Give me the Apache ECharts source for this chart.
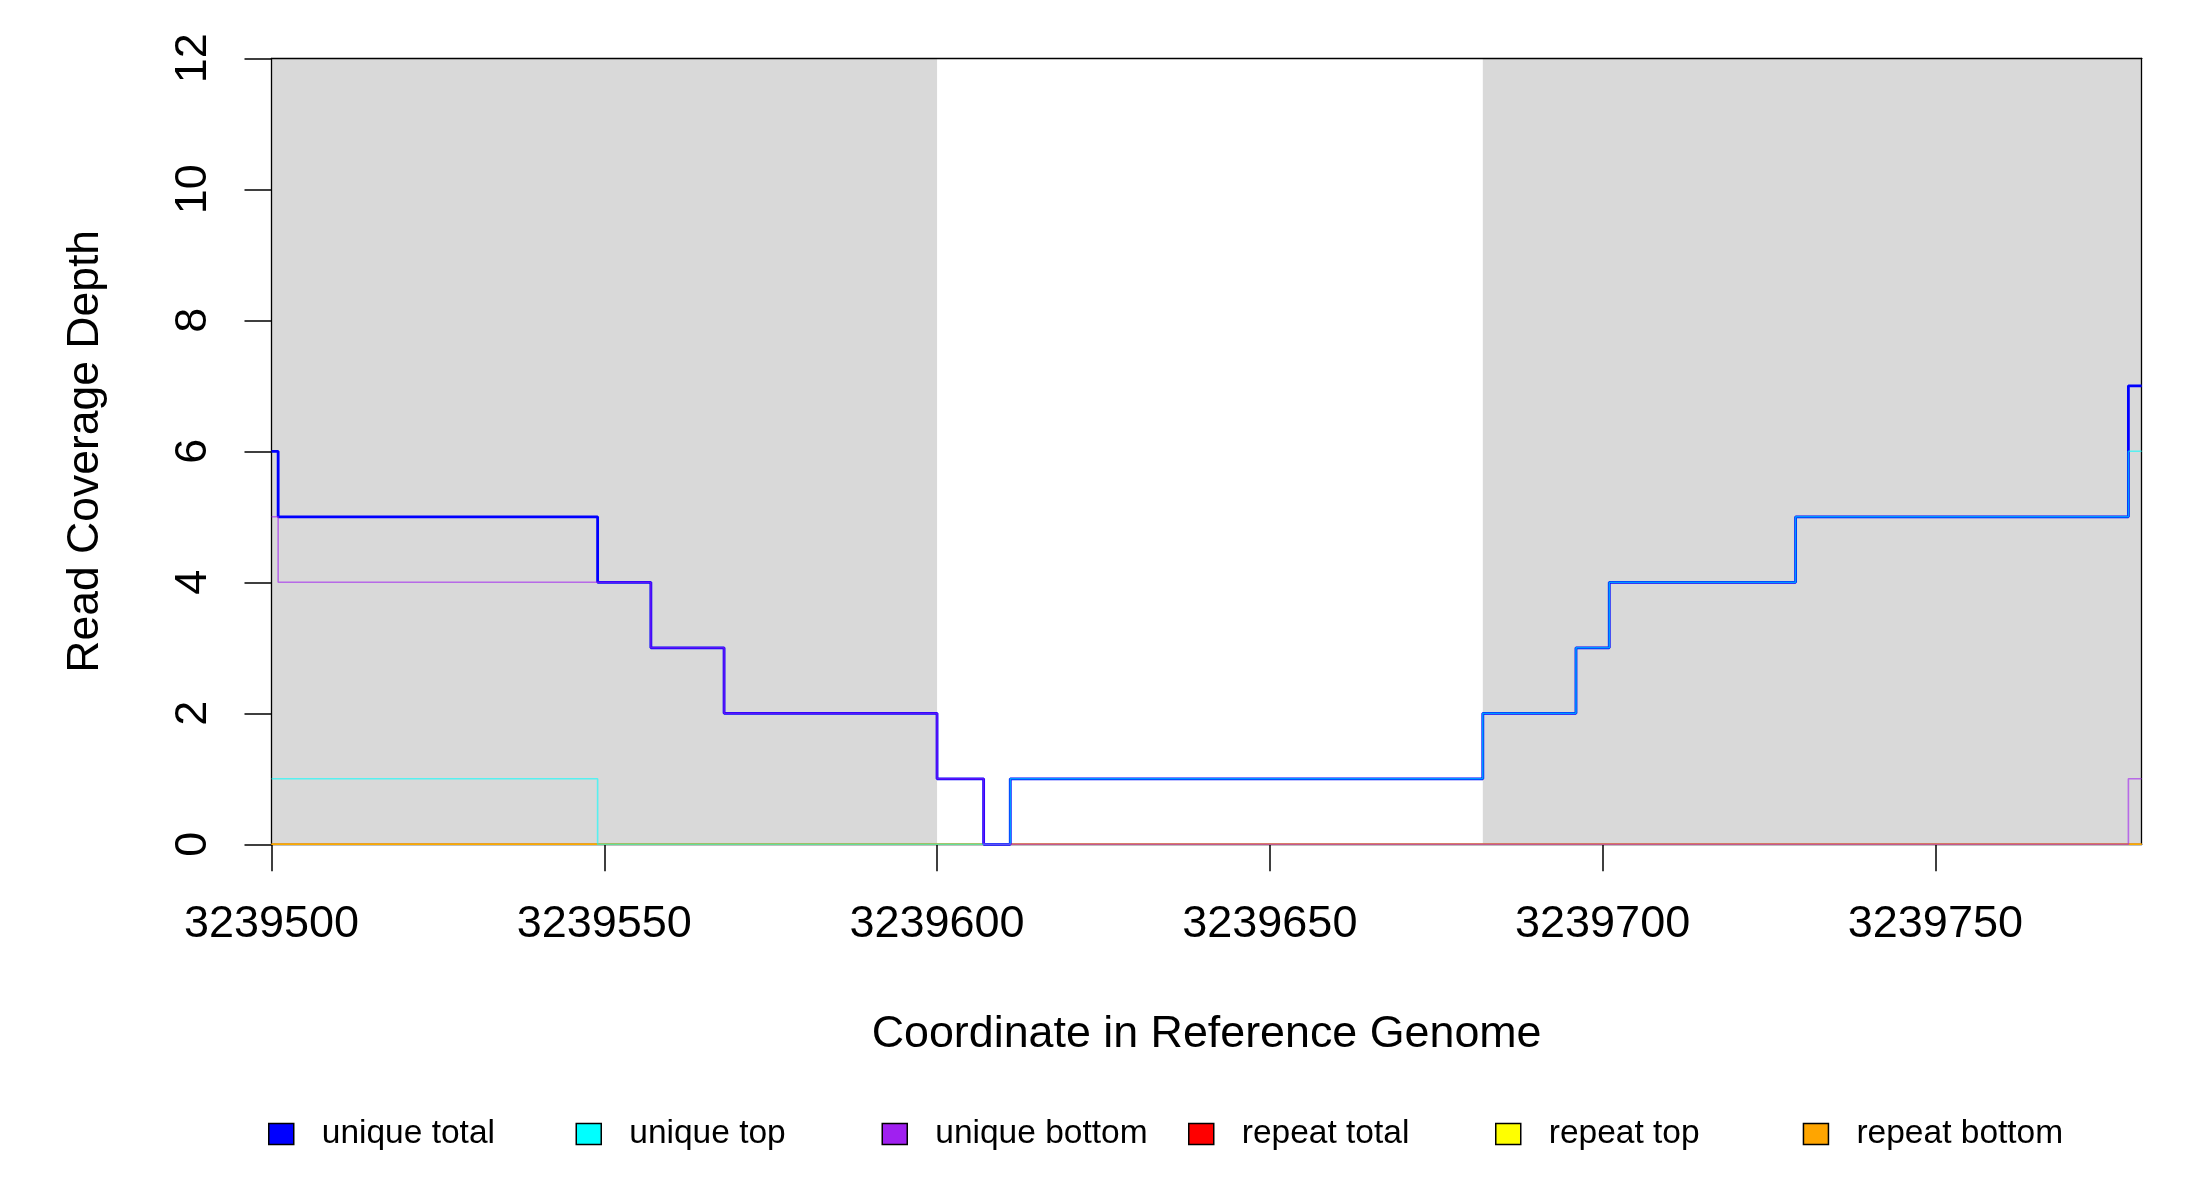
<!DOCTYPE html>
<html>
<head>
<meta charset="utf-8">
<script src="https://cdn.jsdelivr.net/npm/echarts@6/dist/echarts.min.js"></script>
<style>
html,body{margin:0;padding:0;background:#fff;}
#chart{width:2200px;height:1200px;}
</style>
</head>
<body>
<div id="chart"></div>
<script>
// ---- data ----
const positions    = [3239500, 3239501, 3239549, 3239557, 3239568, 3239600, 3239607, 3239611, 3239682, 3239696, 3239701, 3239729, 3239779, 3239781];
const uniqueTotal  = [6, 5, 4, 3, 2, 1, 0, 1, 2, 3, 4, 5, 7, 7];
const uniqueTop    = [1, 1, 0, 0, 0, 0, 0, 1, 2, 3, 4, 5, 6, 6];
const uniqueBottom = [5, 4, 4, 3, 2, 1, 0, 0, 0, 0, 0, 0, 1, 1];
const repeatTotal  = [0, 0, 0, 0, 0, 0, 0, 0, 0, 0, 0, 0, 0, 0];
const repeatTop    = [0, 0, 0, 0, 0, 0, 0, 0, 0, 0, 0, 0, 0, 0];
const repeatBottom = [0, 0, 0, 0, 0, 0, 0, 0, 0, 0, 0, 0, 0, 0];
const xTicks = [3239500, 3239550, 3239600, 3239650, 3239700, 3239750];
const xRange = [3239500, 3239781];
const yRange = [0, 12];
const shadedRegions = [[3239500, 3239600], [3239682, 3239781]];
const seriesNames = ['unique total', 'unique top', 'unique bottom', 'repeat total', 'repeat top', 'repeat bottom'];
const seriesColors = ['#0000FF', '#00FFFF', '#A020F0', '#FF0000', '#FFFF00', '#FFA500'];

// ---- chart ----
const FONT = 'Liberation Sans';
const chart = echarts.init(document.getElementById('chart'));
const valuesByName = {
  'unique total': uniqueTotal, 'unique top': uniqueTop, 'unique bottom': uniqueBottom,
  'repeat total': repeatTotal, 'repeat top': repeatTop, 'repeat bottom': repeatBottom
};
const drawOrder = ['repeat total', 'repeat top', 'repeat bottom', 'unique total', 'unique top', 'unique bottom'];

function lineSeries(name) {
  const idx = seriesNames.indexOf(name);
  const thick = name === 'unique total';
  const isRepeat = name.indexOf('repeat') === 0;
  return {
    name: name,
    type: 'line',
    step: 'end',
    symbol: 'none',
    clip: false,
    z: 3,
    color: seriesColors[idx],
    lineStyle: { color: seriesColors[idx], width: thick ? 2.8 : 1.6, opacity: thick ? 1 : (isRepeat ? 0.75 : 0.6) },
    data: positions.map((x, i) => [x, valuesByName[name][i]])
  };
}

const legendLefts = [268, 575.5, 881.5, 1188, 1495, 1802.7];
const legends = seriesNames.map((n, i) => ({
  data: [{ name: n, itemStyle: { color: seriesColors[i], borderColor: '#000', borderWidth: 1.5, opacity: 1 } }],
  left: legendLefts[i],
  top: 1117,
  orient: 'horizontal',
  icon: 'rect',
  itemWidth: 25,
  itemHeight: 21,
  selectedMode: false,
  padding: 0,
  textStyle: { fontFamily: FONT, fontSize: 33.5, color: '#000', lineHeight: 24, padding: [0, 0, 0, 23] }
}));

const boxLine = { show: true, onZero: false, lineStyle: { color: '#000', width: 1.3 } };

const option = {
  animation: false,
  backgroundColor: '#fff',
  grid: {
    left: 271.5, top: 58.3, right: 58.3, bottom: 355.7, show: false
  },
  legend: legends,
  xAxis: [{
    type: 'value',
    position: 'bottom',
    z: 2,
    min: xRange[0], max: xRange[1],
    name: 'Coordinate in Reference Genome',
    nameLocation: 'middle',
    nameGap: 168,
    nameTextStyle: { fontFamily: FONT, fontSize: 44.8, color: '#000' },
    axisLine: boxLine,
    splitLine: { show: false },
    axisTick: { show: true, length: 27, lineStyle: { color: '#000', width: 1.5 }, customValues: xTicks },
    axisLabel: { fontFamily: FONT, fontSize: 45, color: '#000', margin: 58, customValues: xTicks, formatter: v => String(v) }
  }, {
    type: 'value',
    position: 'top',
    z: 2,
    min: xRange[0], max: xRange[1],
    axisLine: boxLine,
    splitLine: { show: false },
    axisTick: { show: false },
    axisLabel: { show: false }
  }],
  yAxis: [{
    type: 'value',
    position: 'left',
    z: 2,
    min: yRange[0], max: yRange[1], interval: 2,
    name: 'Read Coverage Depth',
    nameLocation: 'middle',
    nameGap: 163,
    nameRotate: 90,
    nameTextStyle: { fontFamily: FONT, fontSize: 44.5, color: '#000' },
    axisLine: boxLine,
    splitLine: { show: false },
    axisTick: { show: true, length: 27, lineStyle: { color: '#000', width: 1.5 } },
    axisLabel: { fontFamily: FONT, fontSize: 45, color: '#000', margin: 55, rotate: 90 }
  }, {
    type: 'value',
    position: 'right',
    z: 2,
    min: yRange[0], max: yRange[1], interval: 2,
    axisLine: boxLine,
    splitLine: { show: false },
    axisTick: { show: false },
    axisLabel: { show: false }
  }],
  series: [
    {
      name: 'shade',
      type: 'line',
      data: [],
      z: 1,
      silent: true,
      markArea: {
        silent: true,
        itemStyle: { color: '#D9D9D9', opacity: 1 },
        data: shadedRegions.map(r => [{ xAxis: r[0], yAxis: yRange[0] }, { xAxis: r[1], yAxis: yRange[1] }])
      }
    }
  ].concat(drawOrder.map(lineSeries))
};
chart.setOption(option);
</script>
</body>
</html>
